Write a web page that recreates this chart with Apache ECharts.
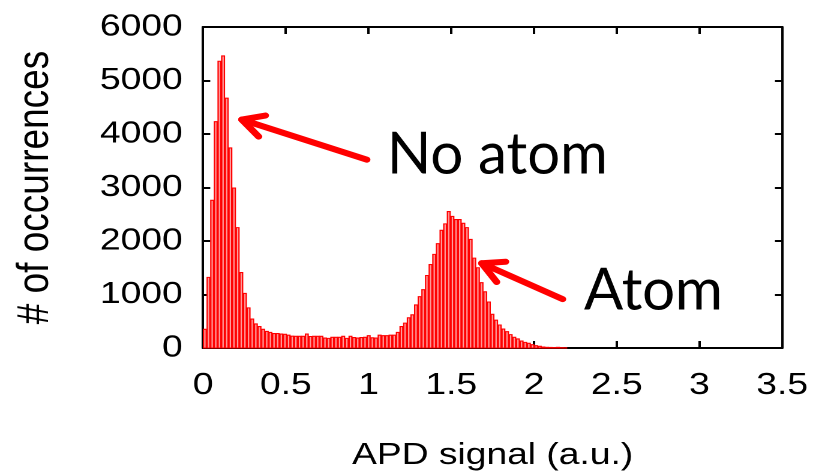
<!DOCTYPE html>
<html>
<head>
<meta charset="utf-8">
<script src="https://cdn.jsdelivr.net/npm/echarts@6/dist/echarts.min.js"></script>
<style>
  html, body { margin: 0; padding: 0; background: #fff; overflow: hidden; }
  #wrap { width: 829px; height: 476px; position: relative; overflow: hidden; }
  /* the plot is laid out 1.2x narrower and widened back, giving its wide lettering */
  #chart { width: 691px; height: 476px; transform: scaleX(1.2); transform-origin: 0 0; }
</style>
</head>
<body>
<div id="wrap"><div id="chart"></div></div>
<script>
var STRETCH = 1.2;

// Histogram of APD signal: 100 bins of width 0.022 starting at 0
var binWidth = 0.022;
var counts = [
  350, 1320, 2760, 4230, 5360, 5460, 4670, 3740, 2990, 2250,
  1410, 1020, 750, 540, 450, 400, 350, 310, 290, 270,
  270, 260, 255, 240, 220, 218, 218, 218, 260, 215,
  218, 218, 218, 186, 180, 200, 200, 200, 218, 180,
  218, 195, 185, 195, 200, 230, 190, 185, 240, 230,
  230, 240, 240, 290, 400, 465, 565, 620, 805, 960,
  1090, 1355, 1560, 1750, 1950, 2200, 2320, 2550, 2460, 2400,
  2400, 2330, 2250, 2030, 1680, 1500, 1220, 1050, 860, 630,
  520, 430, 354, 305, 250, 200, 170, 130, 105, 87,
  62, 43, 31, 18, 12, 10, 8, 12, 6, 4
];

// Annotation arrows: [tail, tip] in data coordinates
var arrowNoAtom = [[0.99, 3520], [0.234, 4270]];
var arrowAtom = [[2.173, 913], [1.684, 1584]];
var labelNoAtom = 'No atom';
var labelAtom = 'Atom';

var bins = counts.map(function (c, i) {
  return [i * binWidth, (i + 1) * binWidth, c];
});

var chart = echarts.init(document.getElementById('chart'), null, { renderer: 'canvas', devicePixelRatio: 2 });

var tickFont = { fontFamily: '"Liberation Sans", Arial, sans-serif', fontSize: 31, color: '#000' };
var axisLineStyle = { color: '#000', width: 2 };

var option = {
  animation: false,
  backgroundColor: '#fff',
  grid: { left: 169.2, right: 39.2, top: 27, bottom: 127 },
  xAxis: [{
    type: 'value', min: 0, max: 3.5, interval: 0.5,
    position: 'bottom',
    name: 'APD signal (a.u.)', nameLocation: 'middle', nameGap: 92,
    nameTextStyle: tickFont,
    axisLine: { show: true, onZero: false, lineStyle: axisLineStyle },
    axisTick: { show: true, inside: true, length: 7, lineStyle: axisLineStyle },
    axisLabel: Object.assign({ margin: 22 }, tickFont),
    splitLine: { show: false }
  }, {
    type: 'value', min: 0, max: 3.5, interval: 0.5,
    position: 'top',
    axisLine: { show: true, onZero: false, lineStyle: axisLineStyle },
    axisTick: { show: true, inside: true, length: 7, lineStyle: axisLineStyle },
    axisLabel: { show: false },
    splitLine: { show: false }
  }],
  yAxis: [{
    type: 'value', min: 0, max: 6000, interval: 1000,
    position: 'left',
    name: '# of occurrences', nameLocation: 'middle', nameGap: 121, nameRotate: 90,
    nameTextStyle: Object.assign({}, tickFont, { fontSize: 37 }),
    axisLine: { show: true, onZero: false, lineStyle: axisLineStyle },
    axisTick: { show: true, inside: true, length: 6, lineStyle: axisLineStyle },
    axisLabel: Object.assign({ margin: 17, formatter: function (v) { return String(v); } }, tickFont),
    splitLine: { show: false }
  }, {
    type: 'value', min: 0, max: 6000, interval: 1000,
    position: 'right',
    axisLine: { show: true, onZero: false, lineStyle: axisLineStyle },
    axisTick: { show: true, inside: true, length: 6, lineStyle: axisLineStyle },
    axisLabel: { show: false },
    splitLine: { show: false }
  }],
  series: [{
    type: 'custom',
    xAxisIndex: 0, yAxisIndex: 0,
    data: bins,
    renderItem: function (params, api) {
      var p0 = api.coord([api.value(0), 0]);
      var p1 = api.coord([api.value(1), api.value(2)]);
      return {
        type: 'rect',
        shape: { x: p0[0] + 0.4, y: p1[1], width: p1[0] - p0[0] - 0.8, height: p0[1] - p1[1] },
        style: { fill: '#ff9c9c', stroke: '#ff0000', lineWidth: 1.1 }
      };
    },
    z: 1
  }]
};

chart.setOption(option);

// Arrows with open heads, placed through the axis scales
function arrowGraphic(pair) {
  var tail = chart.convertToPixel({ gridIndex: 0 }, pair[0]);
  var tip = chart.convertToPixel({ gridIndex: 0 }, pair[1]);
  // work in widened space so the head keeps its shape
  var dx = (tail[0] - tip[0]) * STRETCH, dy = tail[1] - tip[1];
  var ang = Math.atan2(dy, dx);
  var head = 24, spread = 0.48;
  function barb(a) {
    return [tip[0] + head * Math.cos(a) / STRETCH, tip[1] + head * Math.sin(a)];
  }
  var st = { stroke: '#ff0000', lineWidth: 6, lineCap: 'round', lineJoin: 'round', fill: null };
  return [
    { type: 'polyline', shape: { points: [tail, tip] }, style: st, z: 10 },
    { type: 'polyline', shape: { points: [barb(ang + spread), tip, barb(ang - spread)] }, style: st, z: 10 }
  ];
}

// Labels are drawn at normal width, so they are narrowed back by the stretch factor
function label(text, left, midY) {
  return {
    type: 'text', x: left / STRETCH, y: midY, scaleX: 1 / STRETCH, z: 10,
    style: {
      text: text, fontFamily: 'Lato, "Open Sans", sans-serif', fontSize: 58,
      fill: '#000', align: 'left', verticalAlign: 'middle'
    }
  };
}

var g = [].concat(arrowGraphic(arrowNoAtom), arrowGraphic(arrowAtom));
g.push(label(labelNoAtom, 387, 155));
g.push(label(labelAtom, 584, 291));
chart.setOption({ graphic: g });
</script>
</body>
</html>
